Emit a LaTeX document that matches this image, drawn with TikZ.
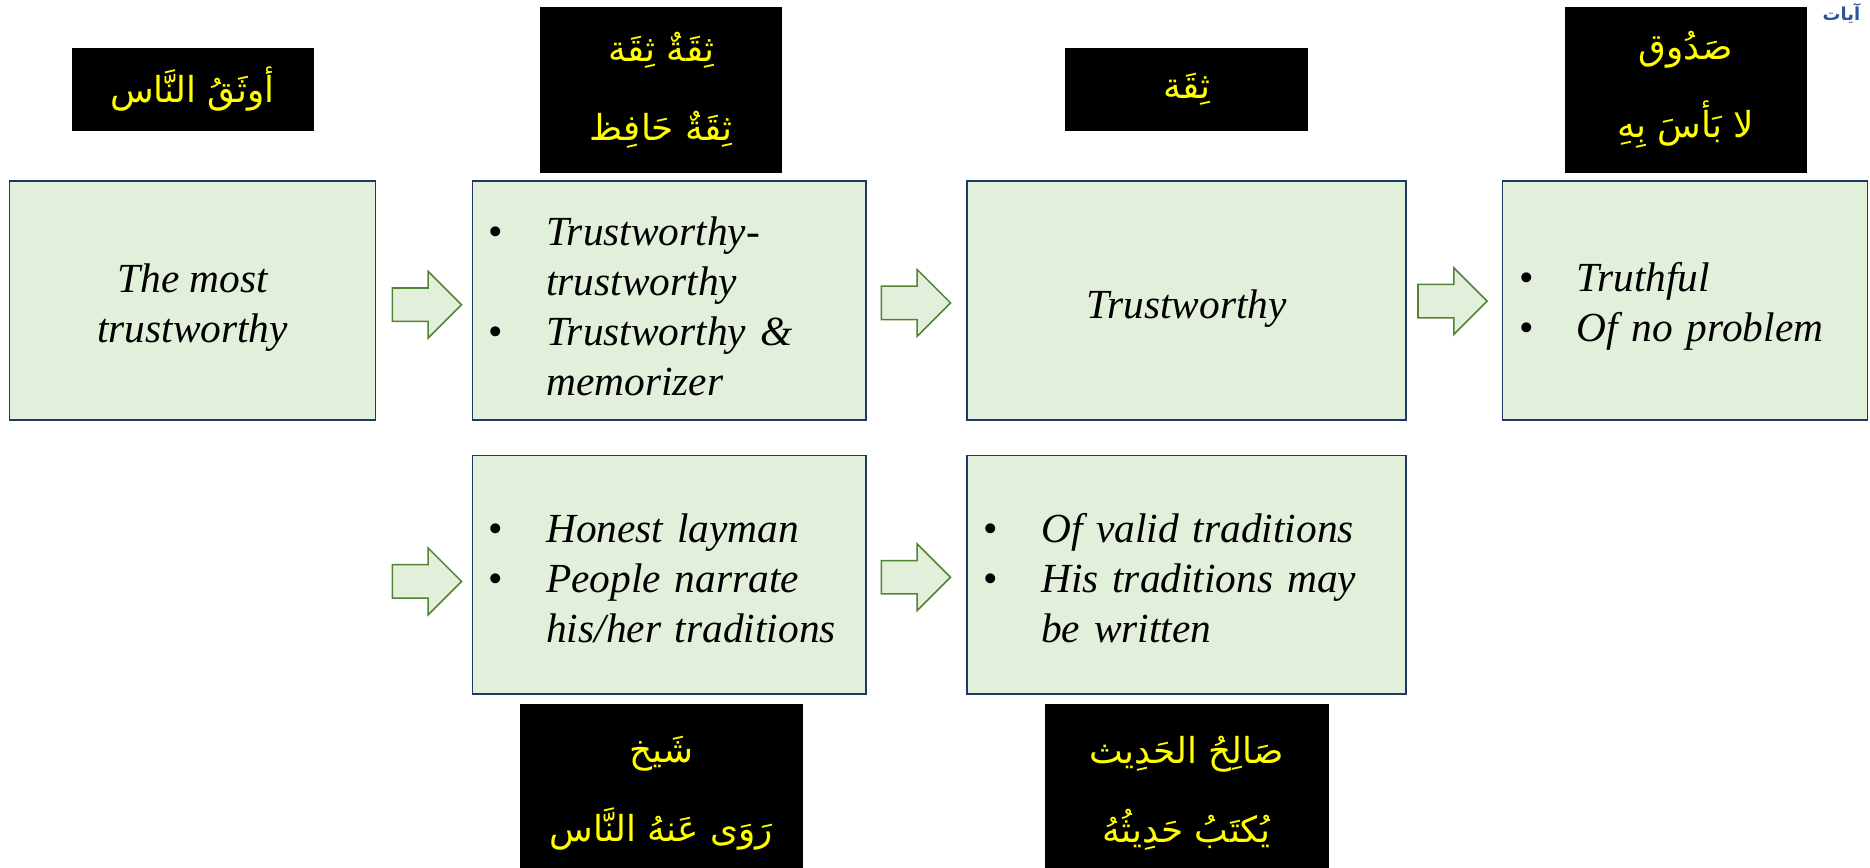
\documentclass[tikz,border=0pt]{standalone}
\usepackage{fontspec}
\setmainfont{Liberation Serif}
\newfontfamily\arfont[Script=Arabic]{DejaVu Sans}
\TeXXeTstate=1
\usetikzlibrary{positioning}
\definecolor{boxfill}{RGB}{226,239,218}
\definecolor{boxline}{RGB}{31,56,100}
\definecolor{arrline}{RGB}{84,130,53}
\definecolor{tagtext}{RGB}{255,255,0}
\definecolor{titleblue}{RGB}{47,85,151}
\newcommand{\bul}{\makebox[48pt][l]{\upshape\textbullet}}
\newcommand{\ind}{\hspace*{48pt}}
\newcommand{\artxt}[1]{\beginR #1\endR}

\begin{document}
\begin{tikzpicture}
	[x=1pt,y=-1pt,
	box/.style={draw=boxline,line width=1.3pt,fill=boxfill,minimum height=200pt,inner sep=0pt},
	lines/.style={inner sep=0pt,font=\fontsize{34.7}{42}\selectfont\itshape},
	tag/.style={fill=black,text=tagtext,inner sep=0pt,align=center,
		font=\arfont\fontsize{30}{66}\selectfont},
	blockarr/.style={draw=arrline,line width=1.3pt,fill=boxfill}]
	\useasboundingbox (0,0) rectangle (1568,727);
	\clip (0,0) rectangle (1568,727);

	% heading, partly hidden
	\node[text=titleblue,font=\arfont\bfseries\fontsize{15}{18}\selectfont,anchor=north east,inner sep=0pt] (ttl) at (1560,3) {\artxt{آيات}};

	% upper row
	\node[box,minimum width=307pt] (n1) at (161.5,252) {};
	\node[box,minimum width=330pt] (n2) at (561,252) {};
	\node[box,minimum width=368pt] (n3) at (995,252) {};
	\node[box,minimum width=306pt] (n4) at (1413,252) {};
	% lower row
	\node[box,minimum width=330pt] (n5) at (561,482) {};
	\node[box,minimum width=368pt] (n6) at (995,482) {};

	% box texts
	\node[lines,align=center] (l1) at ([yshift=-6pt]n1.center) {The most\\trustworthy};
	\node[lines,text width=302pt,align=left] (l2) at ([yshift=-5pt]n2.center)
		{\bul Trustworthy-\\ \ind trustworthy\\ \bul Trustworthy \&\\ \ind memorizer};
	\node[lines] (l3) at ([yshift=-7pt]n3.center) {Trustworthy};
	\node[lines,text width=278pt,align=left] (l4) at ([yshift=-5pt]n4.center)
		{\bul Truthful\\ \bul Of no problem};
	\node[lines,text width=302pt,align=left] (l5) at ([yshift=-3pt]n5.center)
		{\bul Honest layman\\ \bul People narrate\\ \ind his/her traditions};
	\node[lines,text width=340pt,align=left] (l6) at ([yshift=-3pt]n6.center)
		{\bul Of valid traditions\\ \bul His traditions may\\ \ind be written};

	% arabic terms
	\node[tag,minimum width=203pt,minimum height=70pt] (a1) at (161.5,75) {\artxt{أوثَقُ النَّاس}};
	\node[tag,minimum width=203pt,minimum height=139pt] (a2) at (554.5,75.5)
		{\artxt{ثِقَةٌ ثِقَة}\\\artxt{ثِقَةٌ حَافِظ}};
	\node[tag,minimum width=204pt,minimum height=70pt] (a3) at (995,75) {\artxt{ثِقَة}};
	\node[tag,minimum width=203pt,minimum height=139pt] (a4) at (1413.5,75.5)
		{\artxt{صَدُوق}\\\artxt{لا بَأسَ بِهِ}};
	\node[tag,minimum width=237pt,minimum height=150pt] (a5) at (554.5,665)
		{\artxt{شَيخ}\\\artxt{رَوَى عَنهُ النَّاس}};
	\node[tag,minimum width=238pt,minimum height=150pt] (a6) at (995,665)
		{\artxt{صَالِحُ الحَدِيث}\\\artxt{يُكتَبُ حَدِيثُهُ}};

	\foreach \ax/\ay in {329/255.5, 739/254, 1189/252.5, 329/487.5, 739/484}
	\draw[blockarr] (\ax,\ay) ++(0,-14) -- ++(30,0) -- ++(0,-14) -- ++(28,28)
		-- ++(-28,28) -- ++(0,-14) -- ++(-30,0) -- cycle;
\end{tikzpicture}
\end{document}
